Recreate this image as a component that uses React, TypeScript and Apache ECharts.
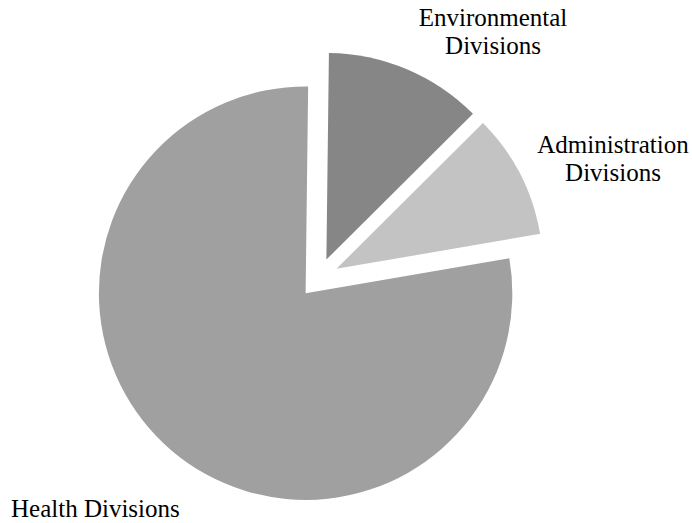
import React, { useEffect, useRef } from "react";
import * as echarts from "echarts";

const categories = ["Environmental Divisions", "Administration Divisions", "Health Divisions"];
const values = [12.35, 9.75, 77.9];
const colors = ["#868686", "#c3c3c3", "#a0a0a0"];

// label placement (styling only)
const labelPos = [
  { x: 493, y: 31, align: "center" },
  { x: 613, y: 158, align: "center" },
  { x: 11, y: 508, align: "left" },
];

export default function App() {
  const ref = useRef<HTMLDivElement>(null);
  useEffect(() => {
    if (!ref.current) return;
    const chart = echarts.init(ref.current, null, { renderer: "svg" });
    chart.setOption({
      animation: false,
      backgroundColor: "#ffffff",
      graphic: categories.map((name, i) => ({
        type: "text",
        x: labelPos[i].x,
        y: labelPos[i].y,
        silent: true,
        style: {
          text: name === "Health Divisions" ? name : name.replace(" ", "\n"),
          fill: "#000000",
          font: "25px 'Liberation Serif'",
          lineHeight: 28,
          textAlign: labelPos[i].align,
          textVerticalAlign: "middle",
        },
      })),
      series: [
        {
          type: "pie",
          center: [318.6, 278],
          radius: 206.7,
          startAngle: 89.3,
          clockwise: true,
          selectedMode: "multiple",
          selectedOffset: 20,
          emphasis: { disabled: true },
          label: { show: false },
          labelLine: { show: false },
          data: categories.map((name, i) => ({
            name,
            value: values[i],
            selected: true,
            itemStyle: { color: colors[i] },
          })),
        },
      ],
    });
    return () => chart.dispose();
  }, []);
  return (
    <div
      ref={ref}
      style={{ position: "absolute", left: 0, top: 0, width: 692, height: 523 }}
    />
  );
}
